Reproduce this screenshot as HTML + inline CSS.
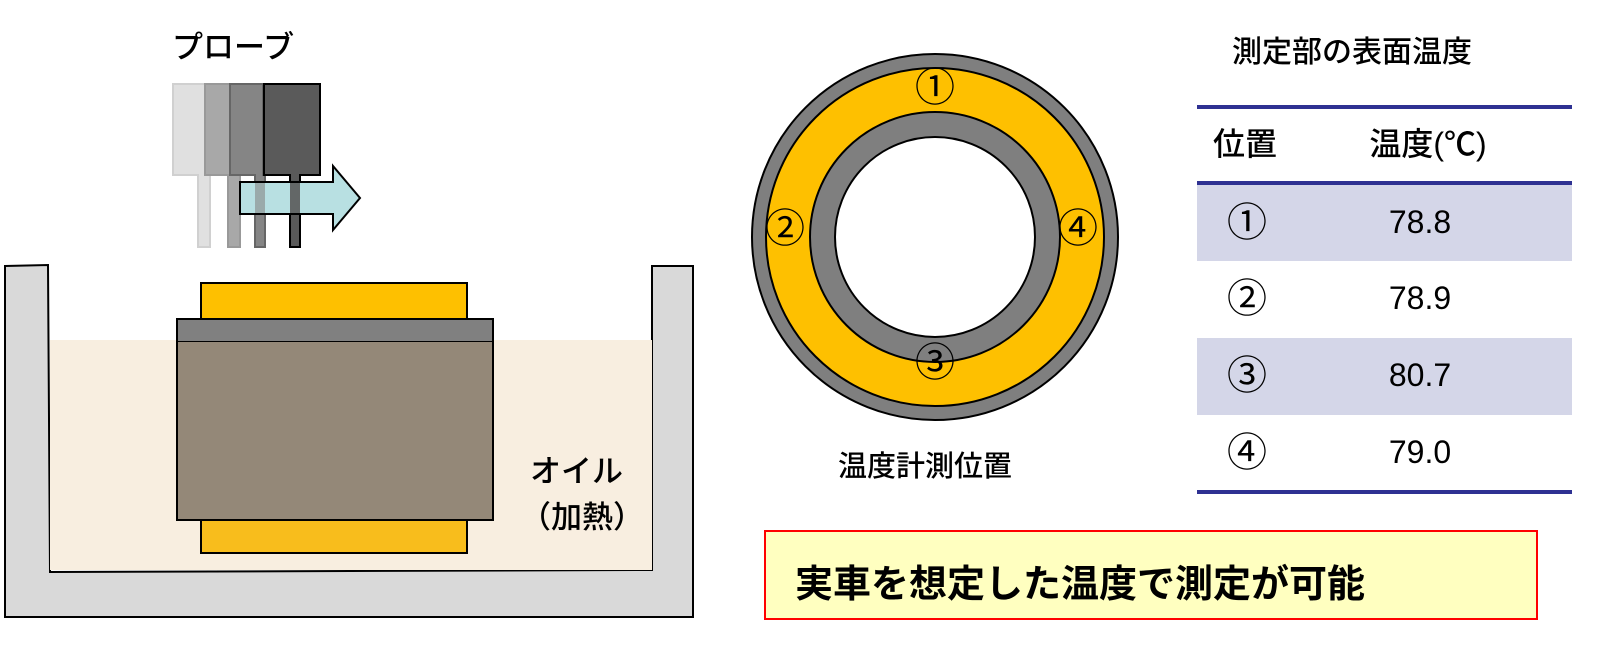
<!DOCTYPE html>
<html><head><meta charset="utf-8"><style>
body{margin:0;width:1599px;height:650px;background:#fff;overflow:hidden}
svg text{font-family:"Liberation Sans","Noto Sans CJK JP",sans-serif}
</style></head><body>
<svg width="1599" height="650" viewBox="0 0 1599 650" xmlns="http://www.w3.org/2000/svg">
<!-- tank -->
<path d="M5,266 L48,265 L50,572 L652,570 L652,266 L693,266 L693,617 L5,617 Z" fill="#d9d9d9" stroke="#000" stroke-width="2"/>
<rect x="50" y="340" width="602" height="230" fill="#f8eee0"/>
<rect x="201" y="283" width="266" height="38" fill="#fec000" stroke="#000" stroke-width="2"/>
<rect x="201" y="520" width="266" height="33" fill="#f8bd1c" stroke="#000" stroke-width="2"/>
<rect x="177" y="319" width="316" height="22" fill="#808080" stroke="#000" stroke-width="2"/>
<rect x="177" y="341" width="316" height="179" fill="#948878" stroke="#000" stroke-width="2"/>
<rect x="178" y="320" width="314" height="21" fill="#808080"/>
<text x="530" y="482" font-size="31" font-weight="500">オイル</text>
<text x="520" y="528" font-size="31" font-weight="500">（加熱）</text>
<!-- probes -->
<text x="172" y="58" font-size="31" font-weight="500">プローブ</text>
<g stroke-width="2">
<path d="M173,84 H210 V175 H210 V247 H198 V175 H173 Z" fill="#e0e0e0" stroke="#d0d0d0"/>
<path d="M205,84 H237 V175 H240 V247 H228 V175 H205 Z" fill="#a8a8a8" stroke="#999"/>
<path d="M230,84 H263 V175 H265 V247 H255 V175 H230 Z" fill="#858585" stroke="#666"/>
<path d="M264,84 H320 V175 H300 V247 H290 V175 H264 Z" fill="#5a5a5a" stroke="#000"/>
</g>
<path d="M240,182 H333 V166 L360,198 L333,230 V214 H240 Z" fill="#b8e0e2" stroke="#000" stroke-width="2"/>
<rect x="290" y="183" width="10" height="30" fill="#5a5a5a" opacity="0.9"/>
<rect x="255" y="183" width="10" height="30" fill="#858585" opacity="0.6"/>
<!-- ring -->
<circle cx="935" cy="237" r="183" fill="#7f7f7f" stroke="#000" stroke-width="2"/>
<circle cx="935" cy="237" r="169" fill="#fec000" stroke="#000" stroke-width="2"/>
<circle cx="935" cy="237" r="125" fill="#7f7f7f" stroke="#000" stroke-width="2"/>
<circle cx="935" cy="237" r="100" fill="#fff" stroke="#000" stroke-width="2"/>
<g font-size="40" text-anchor="middle">
<text x="935" y="101">①</text><text x="785" y="242">②</text><text x="1078" y="242">④</text><text x="935" y="376">③</text>
</g>
<text x="925" y="476" font-size="29" font-weight="500" text-anchor="middle">温度計測位置</text>
<!-- table -->
<text x="1352" y="62" font-size="30" font-weight="500" text-anchor="middle">測定部の表面温度</text>
<rect x="1197" y="183" width="375" height="78" fill="#d4d6e8"/>
<rect x="1197" y="338" width="375" height="77" fill="#d4d6e8"/>
<rect x="1197" y="105" width="375" height="4" fill="#2e3192"/>
<rect x="1197" y="181" width="375" height="4" fill="#2e3192"/>
<rect x="1197" y="490" width="375" height="4" fill="#2e3192"/>
<g font-size="32" text-anchor="middle" font-weight="500">
<text x="1245" y="155">位置</text><text x="1428" y="155">温度(℃)</text>
</g>
<g font-size="40" text-anchor="middle">
<text x="1247" y="236">①</text>
<text x="1247" y="312">②</text>
<text x="1247" y="389">③</text>
<text x="1247" y="466">④</text>
</g>
<g font-size="32" text-anchor="middle">
<text x="1420" y="233">78.8</text>
<text x="1420" y="309">78.9</text>
<text x="1420" y="386">80.7</text>
<text x="1420" y="463">79.0</text>
</g>
<!-- bottom box -->
<rect x="765" y="531" width="772" height="88" fill="#ffffc0" stroke="#ff0000" stroke-width="2"/>
<text x="795" y="597" font-size="38" font-weight="bold">実車を想定した温度で測定が可能</text>
</svg>
</body></html>
